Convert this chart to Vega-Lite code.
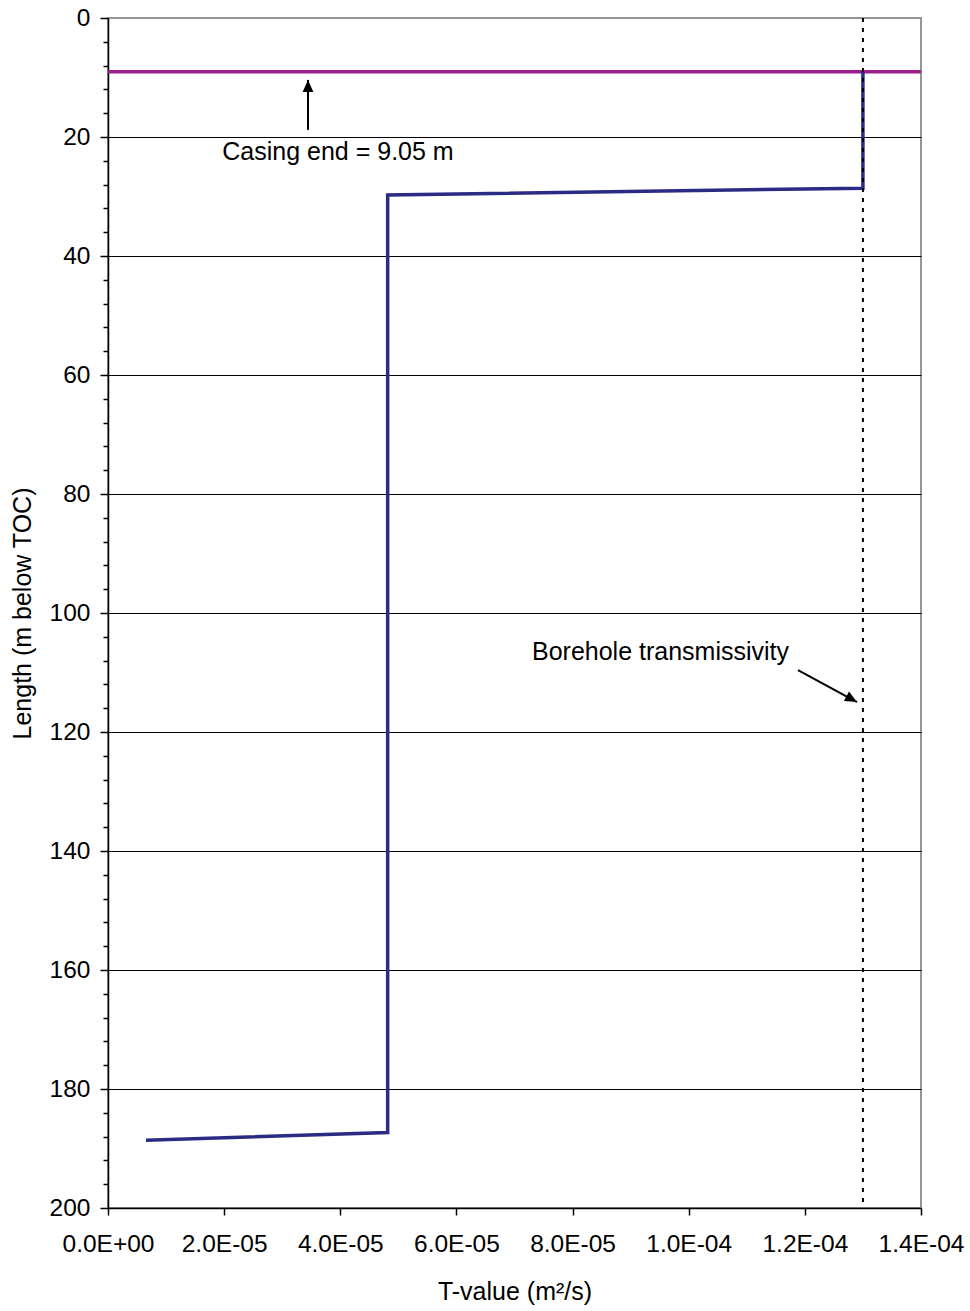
{
  "$schema": "https://vega.github.io/schema/vega-lite/v6.json",
  "width": 813,
  "height": 1190,
  "autosize": "none",
  "padding": {"left": 108, "top": 18, "right": 49, "bottom": 103},
  "background": "white",
  "config": {
    "font": "Liberation Sans",
    "view": {"stroke": "#969696", "strokeWidth": 2},
    "axis": {
      "labelFont": "Liberation Sans",
      "titleFont": "Liberation Sans",
      "labelColor": "black",
      "titleColor": "black",
      "domainColor": "black",
      "tickColor": "black",
      "labelFontSize": 24.5,
      "titleFontSize": 25,
      "titleFontWeight": "normal",
      "domainWidth": 1.5,
      "tickWidth": 1.5
    }
  },
  "datasets": {
    "casing": [{"depth": 9.05}],
    "borehole": [{"T": 0.00013}],
    "profile": [
      {"i": 1, "T": 0.00013, "depth": 9.05},
      {"i": 2, "T": 0.00013, "depth": 28.6},
      {"i": 3, "T": 0.00004816, "depth": 29.75},
      {"i": 4, "T": 0.00004816, "depth": 187.3},
      {"i": 5, "T": 0.00000654, "depth": 188.6}
    ],
    "notes": [
      {"label": "Casing end = 9.05 m", "T": 0.0000396, "depth": 23.87},
      {"label": "Borehole transmissivity", "T": 0.00009514, "depth": 107.9}
    ],
    "arrows": [
      {"id": "casing", "T": 0.00003444, "depth": 18.8, "T2": 0.00003444, "depth2": 10.4},
      {"id": "bh", "T": 0.00011882, "depth": 109.6, "T2": 0.00012898, "depth2": 114.96}
    ]
  },
  "layer": [
    {
      "data": {"name": "casing"},
      "mark": {"type": "rule", "color": "#9c1e8a", "strokeWidth": 3.5},
      "encoding": {
        "y": {
          "field": "depth",
          "type": "quantitative",
          "scale": {"domain": [0, 200], "reverse": true, "nice": false, "zero": false},
          "axis": {
            "orient": "left",
            "values": [4, 8, 12, 16, 24, 28, 32, 36, 44, 48, 52, 56, 64, 68, 72, 76, 84, 88, 92, 96, 104, 108, 112, 116, 124, 128, 132, 136, 144, 148, 152, 156, 164, 168, 172, 176, 184, 188, 192, 196],
            "labels": false,
            "domain": false,
            "grid": false,
            "tickSize": 5,
            "title": null
          }
        }
      }
    },
    {
      "data": {"name": "profile"},
      "mark": {"type": "line", "color": "#2b2a84", "strokeWidth": 3.5},
      "encoding": {
        "x": {
          "field": "T",
          "type": "quantitative",
          "scale": {"domain": [0, 0.00014], "nice": false, "zero": false},
          "axis": {
            "title": "T-value (m²/s)",
            "values": [0, 0.00002, 0.00004, 0.00006, 0.00008, 0.0001, 0.00012, 0.00014],
            "labelExpr": "datum.value == 0 ? '0.0E+00' : format(datum.value * pow(10, datum.value >= 0.0000999 ? 4 : 5), '.1f') + 'E-0' + (datum.value >= 0.0000999 ? '4' : '5')",
            "labelOverlap": false,
            "labelFlush": false,
            "labelBound": false,
            "grid": false,
            "tickSize": 7,
            "labelPadding": 17,
            "titlePadding": 24
          }
        },
        "y": {
          "field": "depth",
          "type": "quantitative",
          "axis": {
            "title": "Length (m below TOC)",
            "orient": "left",
            "values": [0, 20, 40, 60, 80, 100, 120, 140, 160, 180, 200],
            "labelOverlap": false,
            "labelFlush": false,
            "labelBound": false,
            "grid": true,
            "gridColor": "black",
            "gridWidth": 1,
            "gridOpacity": {"condition": {"test": "datum.value === 0 || datum.value === 200", "value": 0}, "value": 1},
            "tickSize": 8,
            "labelPadding": 10,
            "titlePadding": 14
          }
        },
        "order": {"field": "i", "type": "quantitative"}
      }
    },
    {
      "data": {"name": "borehole"},
      "mark": {"type": "rule", "color": "black", "strokeWidth": 2, "strokeDash": [4, 6]},
      "encoding": {
        "x": {"field": "T", "type": "quantitative"}
      }
    },
    {
      "data": {"name": "notes"},
      "mark": {"type": "text", "fontSize": 25, "align": "center", "baseline": "alphabetic", "color": "black", "font": "Liberation Sans"},
      "encoding": {
        "x": {"field": "T", "type": "quantitative"},
        "y": {"field": "depth", "type": "quantitative", "axis": null},
        "text": {"field": "label"}
      }
    },
    {
      "data": {"name": "arrows"},
      "mark": {"type": "rule", "color": "black", "strokeWidth": 2},
      "encoding": {
        "x": {"field": "T", "type": "quantitative"},
        "y": {"field": "depth", "type": "quantitative", "axis": null},
        "x2": {"field": "T2"},
        "y2": {"field": "depth2"}
      }
    },
    {
      "data": {"name": "arrows"},
      "transform": [{"filter": "datum.id == 'casing'"}],
      "mark": {"type": "point", "shape": "M0,0L0.9,2L-0.9,2Z", "size": 144, "filled": true, "color": "black", "opacity": 1, "strokeWidth": 0, "angle": 0},
      "encoding": {
        "x": {"field": "T2", "type": "quantitative"},
        "y": {"field": "depth2", "type": "quantitative", "axis": null}
      }
    },
    {
      "data": {"name": "arrows"},
      "transform": [{"filter": "datum.id == 'bh'"}],
      "mark": {"type": "point", "shape": "M0,0L0.9,2L-0.9,2Z", "size": 144, "filled": true, "color": "black", "opacity": 1, "strokeWidth": 0, "angle": 118.4},
      "encoding": {
        "x": {"field": "T2", "type": "quantitative"},
        "y": {"field": "depth2", "type": "quantitative", "axis": null}
      }
    }
  ],
  "resolve": {"axis": {"y": "independent"}}
}
